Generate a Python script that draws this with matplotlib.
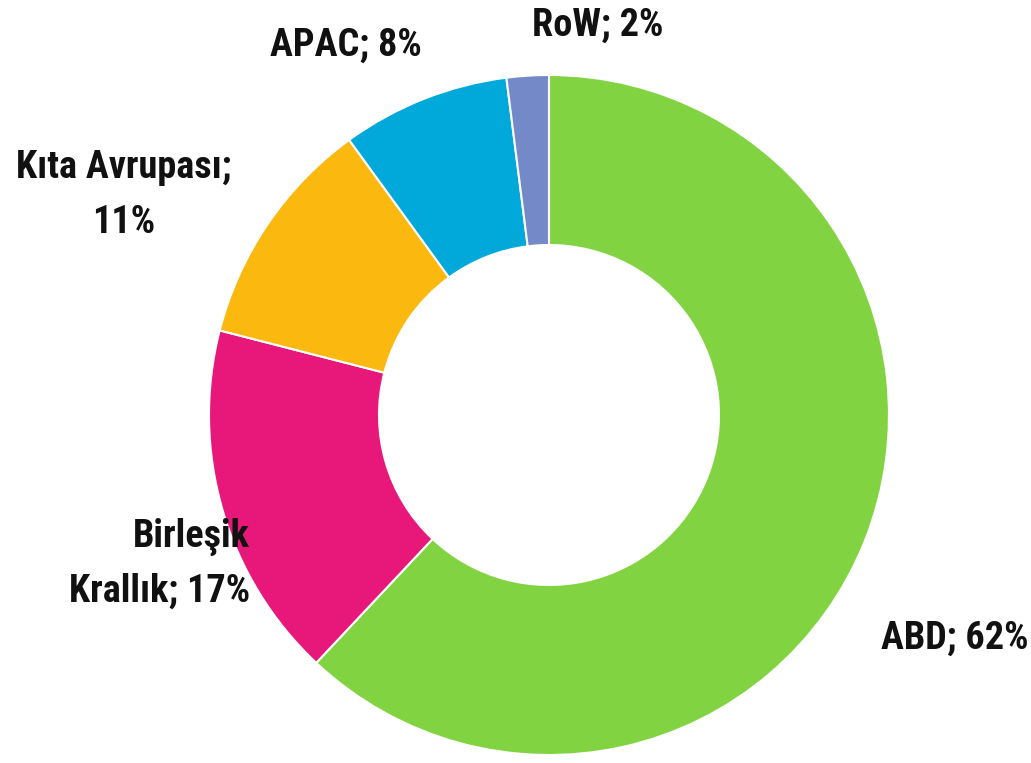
import matplotlib
matplotlib.use("Agg")
import matplotlib.pyplot as plt
from matplotlib import font_manager

names = ["ABD", "Birleşik\nKrallık", "Kıta Avrupası;\n", "APAC", "RoW"]
shares = [62, 17, 11, 8, 2]
colors = ["#82D341", "#E8177A", "#FBB80F", "#00A9DA", "#7489C8"]

fams = {f.name for f in font_manager.fontManager.ttflist}
fam = "DejaVu Sans"
for cand in ["Liberation Sans Narrow", "Roboto Condensed", "Open Sans Condensed"]:
    if cand in fams:
        fam = cand
        break

W, H = 1031, 763
fig = plt.figure(figsize=(W / 100, H / 100), dpi=100)
ax = fig.add_axes([0, 0, 1, 1])

cx, cy, r = 549, H - 415, 340
ax.pie(shares, colors=colors, startangle=90, counterclock=False,
       center=(cx, cy), radius=r,
       wedgeprops=dict(width=r * 0.5, edgecolor="white", linewidth=1.5))
ax.set_xlim(0, W)
ax.set_ylim(0, H)
ax.set_aspect("equal")
ax.axis("off")

# label placement in pixel coords (y from top)
spots = [(955, 638, "center"), (250, 564, "right"), (124, 195, "center"),
         (346, 45, "center"), (598, 25, "center")]
for n, v, (x, y, ha) in zip(names, shares, spots):
    if n.endswith("\n"):
        txt = f"{n}{v}%"
    else:
        txt = f"{n}; {v}%"
    ax.text(x, H - y, txt, ha=ha, va="center", fontsize=27.5, fontweight="bold",
            fontstretch="condensed", family=fam, color="#111111",
            multialignment=ha, linespacing=1.6)

fig.savefig("out.png", dpi=100)
